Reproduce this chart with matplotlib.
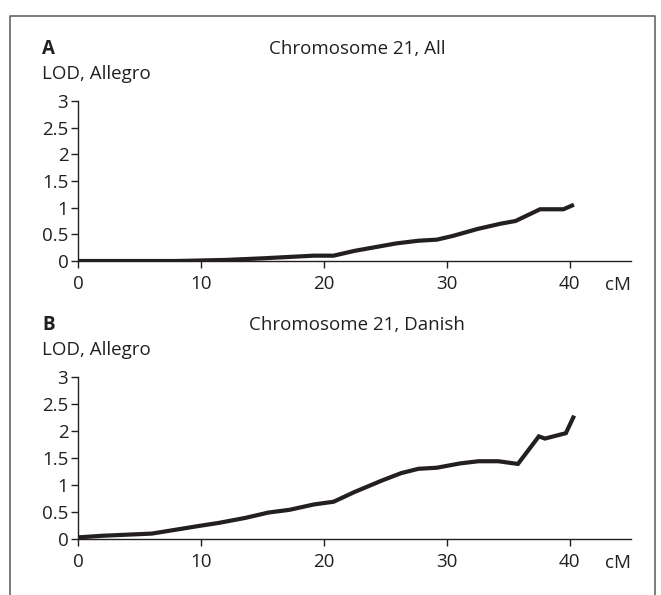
import matplotlib.pyplot as plt
from matplotlib.lines import Line2D

plt.rcParams['font.family'] = ['Open Sans', 'DejaVu Sans']

# panel A: chromosome 21, all families
cm_all = [0, 8, 10, 12, 15, 19.2, 20.8, 22.5, 25.9, 27.7, 29.2, 30.5, 32.5, 34.4, 35.6, 37.6, 39.5, 40.2]
lod_all = [0, 0, 0.01, 0.02, 0.05, 0.1, 0.1, 0.19, 0.33, 0.38, 0.4, 0.47, 0.6, 0.7, 0.75, 0.97, 0.97, 1.04]

# panel B: chromosome 21, Danish families
cm_dan = [0, 2, 6, 7.9, 9.8, 11.5, 13.6, 15.5, 17.2, 19.2, 20.8, 22.5, 24.7, 26.3, 27.7, 29.2, 31.1, 32.6,
          34.2, 35.8, 37.5, 38, 39.7, 40.3]
lod_dan = [0.03, 0.06, 0.1, 0.17, 0.24, 0.3, 0.39, 0.49, 0.54, 0.64, 0.69, 0.87, 1.08, 1.22, 1.3, 1.32, 1.4, 1.44,
           1.44, 1.39, 1.9, 1.86, 1.96, 2.25]

xticks = [0, 10, 20, 30, 40]
yticks = [0, 0.5, 1, 1.5, 2, 2.5, 3]
ylabels = ['0', '0.5', '1', '1.5', '2', '2.5', '3']

W, H = 661, 595
fig = plt.figure(figsize=(W / 100, H / 100), dpi=100)
ink = '#231f20'
fs = 13.5

# outer frame (open at the bottom)
fig.add_artist(Line2D([10 / W, 10 / W, 655 / W, 655 / W], [0, 1 - 16 / H, 1 - 16 / H, 0],
                      color='#666666', lw=1.2, transform=fig.transFigure))

panels = [
    ('A', 'Chromosome 21, All', cm_all, lod_all, 101, 261),
    ('B', 'Chromosome 21, Danish', cm_dan, lod_dan, 377, 539),
]

for letter, title, xs, ys, top, bot in panels:
    ax = fig.add_axes([78 / W, 1 - bot / H, (631 - 78) / W, (bot - top) / H])
    ax.plot(xs, ys, color=ink, lw=3, solid_joinstyle='miter')
    ax.set_xlim(0, 45)
    ax.set_ylim(0, 3)
    ax.set_xticks(xticks)
    ax.set_yticks(yticks)
    ax.set_yticklabels(ylabels)
    for s in ['top', 'right']:
        ax.spines[s].set_visible(False)
    for s in ['left', 'bottom']:
        ax.spines[s].set_color(ink)
        ax.spines[s].set_linewidth(1)
    ax.spines['left'].set_bounds(0, 3)
    ax.tick_params(colors=ink, labelsize=fs, length=5, width=1, pad=2)
    ax.tick_params(axis='x', pad=5)
    fig.text(42 / W, 1 - (top - 52) / H, letter, fontsize=fs, fontweight='bold', color=ink,
             ha='left', va='center')
    fig.text(357 / W, 1 - (top - 52) / H, title, fontsize=fs, color=ink, ha='center', va='center')
    fig.text(42 / W, 1 - (top - 27) / H, 'LOD, Allegro', fontsize=fs, color=ink, ha='left', va='center')
    fig.text(631 / W, 1 - (bot + 24) / H, 'cM', fontsize=fs, color=ink, ha='right', va='center')

fig.savefig('out.png', dpi=100)
